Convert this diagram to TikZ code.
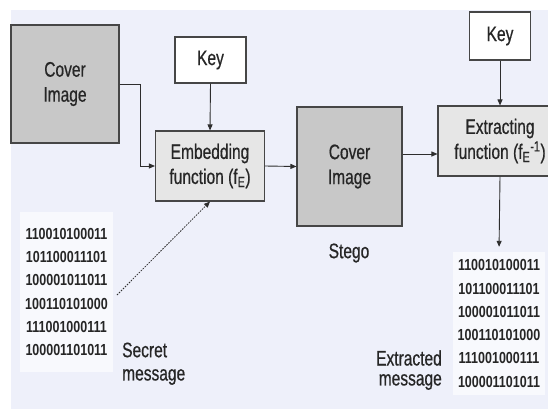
\documentclass[tikz,border=0pt]{standalone}
\usepackage{fontspec}
\setmainfont[FakeStretch=0.74,FakeBold=0.6]{Liberation Sans}
\newfontfamily\binfont[FakeStretch=0.78]{Liberation Sans}
\usetikzlibrary{arrows.meta}
\definecolor{bgcol}{RGB}{238,240,250}
\definecolor{coverfill}{RGB}{200,200,200}
\definecolor{funcfill}{RGB}{230,230,230}
\definecolor{linecol}{RGB}{45,45,45}
\definecolor{bordercol}{RGB}{70,70,70}
\tikzset{
  box/.style={draw=bordercol, line width=1.1pt, inner sep=0pt, align=center, text=black!85,
    font=\fontsize{21}{25}\selectfont},
  coverbox/.style={box, fill=coverfill},
  funcbox/.style={box, fill=funcfill},
  keybox/.style={box, fill=white},
  arr/.style={draw=linecol, line width=0.9pt, -{Triangle[length=6pt,width=5pt]}},
  dotarr/.style={draw=linecol, line width=0.8pt, dash pattern=on 1.6pt off 1.2pt, -{Triangle[length=6pt,width=5pt]}},
  bits/.style={align=center, inner sep=0pt, fill=white, fill opacity=0.6, text opacity=1, text=black!85,
    font=\binfont\bfseries\fontsize{16}{23.3}\selectfont},
  lbl/.style={inner sep=0pt, text=black!85, font=\fontsize{21}{26}\selectfont},
}
\begin{document}
\begin{tikzpicture}[x=1pt,y=-1pt]
\useasboundingbox (0,0) rectangle (548,409);
\fill[white] (0,0) rectangle (548,409);
\fill[bgcol] (11,10) rectangle (548,409);

% boxes
\node[coverbox, minimum width=108pt, minimum height=118pt] (cover1) at (65,84) {Cover\\Image};
\node[keybox, minimum width=71pt, minimum height=46pt] (key1) at (210.5,60) {Key};
\node[funcbox, minimum width=109pt, minimum height=70pt] (embed) at (210,166) {Embedding\\function (f\textsubscript{E})};
\node[coverbox, minimum width=105pt, minimum height=119pt] (cover2) at (349.5,166.5) {Cover\\Image};
\node[keybox, minimum width=61pt, minimum height=48pt] (key2) at (500,36) {Key};
\node[funcbox, minimum width=124pt, minimum height=70pt] (extract) at (500,141) {Extracting\\function (f\textsubscript{E}\textsuperscript{-1})};

% labels
\node[lbl] (stego) at (349,253) {Stego};
\node[bits, minimum width=93pt, minimum height=160pt] (secret) at (66.5,292)
  {110010100011\\101100011101\\100001011011\\100110101000\\111001000111\\100001101011};
\node[lbl, anchor=west] (sec1) at (122,350) {Secret};
\node[lbl, anchor=west] (sec2) at (122,377) {message};
\node[bits, minimum width=92pt, minimum height=143pt] (extracted) at (499,323.5)
  {110010100011\\101100011101\\100001011011\\100110101000\\111001000111\\100001101011};
\node[lbl, anchor=east] (ext1) at (442,358) {Extracted};
\node[lbl, anchor=east] (ext2) at (442,382) {message};

% connectors
\coordinate (bend) at (140,84);
\draw[arr] (cover1.east |- bend) -- (bend) |- (embed.west);
\draw[arr] (key1.south) -- (embed.north);
\draw[arr] (embed.east) -- (cover2.west);
\coordinate (mid) at (420,154);
\draw[arr] (cover2.east |- mid) -- (extract.west |- mid);
\draw[arr] (key2.south) -- (extract.north);
\draw[arr, shorten >=5pt] (extract.south) -- (extracted.north);
\coordinate (dstart) at (117,295);
\draw[dotarr] (dstart) -- (embed.south);
\end{tikzpicture}
\end{document}
